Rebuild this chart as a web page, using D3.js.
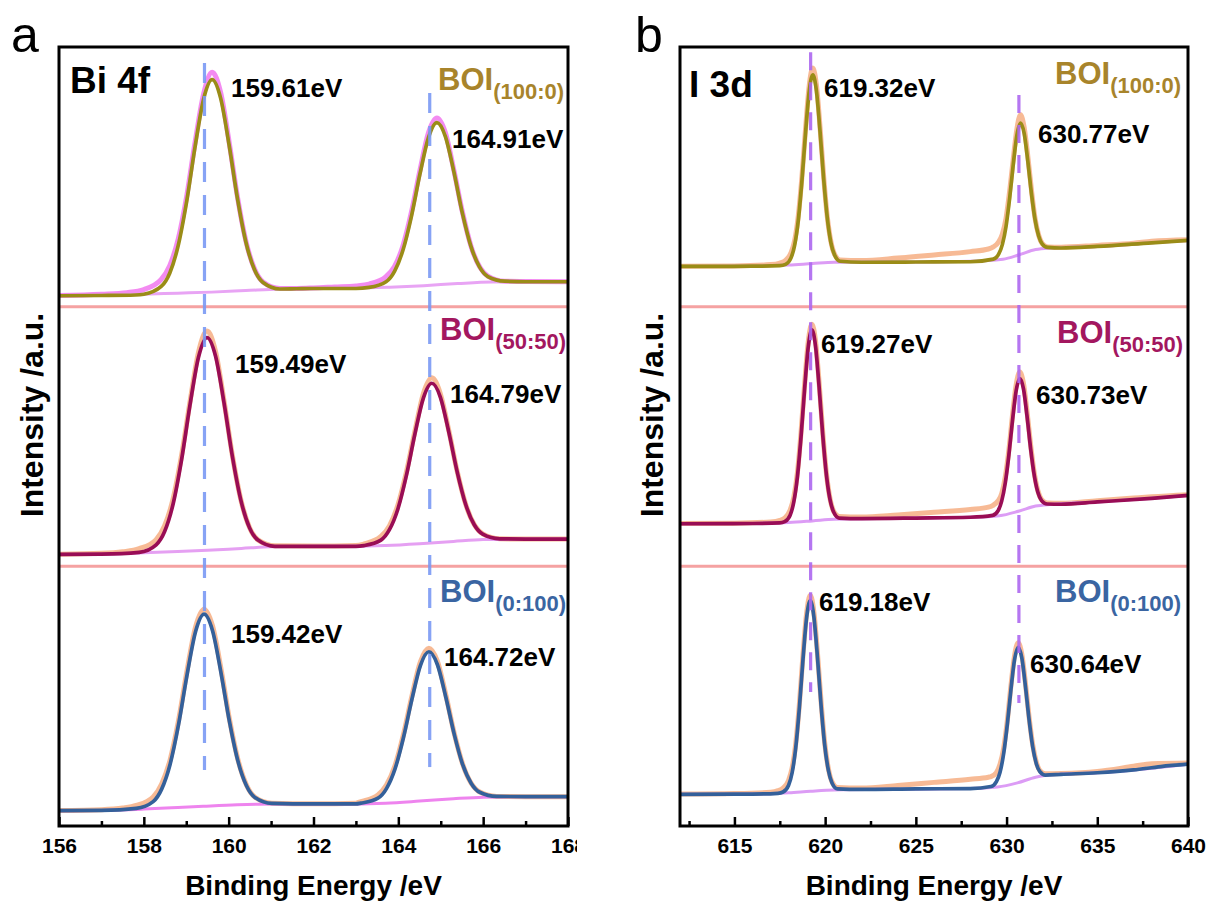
<!DOCTYPE html>
<html>
<head>
<meta charset="utf-8">
<script src="https://cdn.jsdelivr.net/npm/d3@7"></script>
<style>
  html, body { margin: 0; padding: 0; background: #fff; }
  svg { display: block; font-family: "Liberation Sans", Arial, sans-serif; }
</style>
</head>
<body>
<svg id="chart" width="1208" height="904"></svg>
<script>
// ---------------- DATA ----------------
// Panel a: Bi 4f  (x = binding energy eV, y = intensity within its strip, 0..100 a.u.)
const ticksA = [156, 158, 160, 162, 164, 166, 168];
const minorTicksA = [157, 159, 161, 163, 165, 167];
const ticksB = [615, 620, 625, 630, 635, 640];
const minorTicksB = [612.5, 617.5, 622.5, 627.5, 632.5, 637.5];

// row 1 BOI(100:0)
const a1Fit = [[156,4.2],[157,4.3],[157.8,4.5],[158.0,4.8],[158.41,7.8],[158.61,12.9],[158.81,23.5],[159.01,40.5],[159.21,61.8],[159.41,80.0],[159.61,87.4],[159.81,80.3],[160.01,62.3],[160.21,41.4],[160.41,24.6],[160.61,14.2],[160.81,9.3],[161.21,6.8],[161.6,6.9],[162,7.0],[162.5,7.0],[163,7.0],[163.31,7.4],[163.71,9.6],[163.91,13.6],[164.11,21.8],[164.31,34.9],[164.51,51.1],[164.71,65.1],[164.91,70.9],[165.11,65.5],[165.31,51.9],[165.51,36.0],[165.71,23.3],[165.91,15.4],[166.11,11.6],[166.51,9.8],[167,9.6],[168,9.6]];
const a1Raw = [[156,4.3],[157,4.8],[157.6,5.4],[158,6.6],[158.41,10.5],[158.61,15.8],[158.81,26],[159.01,42.5],[159.21,63.5],[159.41,82],[159.61,90.3],[159.81,82.5],[160.01,63.5],[160.21,42],[160.41,25],[160.61,14.5],[160.81,9.5],[161.21,7.0],[161.6,7.0],[162,7.2],[162.5,7.6],[163,8.0],[163.31,8.7],[163.71,11.6],[163.91,15.5],[164.11,23.5],[164.31,36.5],[164.51,52.5],[164.71,67],[164.91,72.7],[165.11,67],[165.31,52.5],[165.51,36.5],[165.71,23.5],[166.11,11.8],[166.51,9.8],[167,9.7],[168,9.6]];
const a1Bg = [[156,4.2],[157,4.4],[158,4.8],[158.8,5.2],[159.6,5.6],[160.4,6.2],[161.2,6.8],[162,7.0],[163,7.1],[163.8,7.5],[164.6,8.1],[165.4,8.9],[166.2,9.5],[167,9.6],[168,9.6]];

// row 2 BOI(50:50)
const a2Fit = [[156,4.6],[157,4.7],[157.89,5.4],[158.29,8.3],[158.49,13.4],[158.69,24.0],[158.89,41.1],[159.09,62.3],[159.29,80.6],[159.49,88.1],[159.69,81.0],[159.89,63.0],[160.09,42.1],[160.29,25.3],[160.49,14.9],[160.69,10.1],[161.09,7.7],[162,7.7],[163,7.7],[163.19,8.0],[163.59,10.1],[163.79,14.1],[163.99,22.1],[164.19,35.0],[164.39,50.9],[164.59,64.8],[164.79,70.5],[164.99,65.2],[165.19,51.7],[165.39,36.2],[165.59,23.7],[165.79,16.0],[165.99,12.4],[166.39,10.6],[167,10.5],[168,10.5]];
const a2Raw = [[156,4.7],[157,5.0],[157.5,5.6],[157.89,6.8],[158.29,10.3],[158.49,15.6],[158.69,26],[158.89,42.8],[159.09,63.5],[159.29,82.5],[159.49,90.6],[159.69,82.8],[159.89,63.8],[160.09,42.5],[160.29,25.5],[160.49,15],[160.69,10.2],[161.09,7.9],[162,7.8],[163,8.0],[163.19,8.6],[163.59,11.5],[163.79,15.6],[163.99,23.6],[164.19,36.3],[164.39,52],[164.59,66.5],[164.79,72.6],[164.99,66.5],[165.19,52.3],[165.39,36.4],[165.59,23.8],[165.99,12.5],[166.39,10.6],[167,10.5],[168,10.5]];
const a2Bg = [[156,4.6],[157,4.7],[158,5.2],[158.8,5.7],[159.5,6.2],[160.3,6.9],[161,7.5],[162,7.7],[163,7.7],[163.7,8.0],[164.5,8.7],[165.3,9.6],[166,10.3],[167,10.5],[168,10.5]];

// row 3 BOI(0:100)
const a3Fit = [[156,5.9],[157,6.0],[157.82,6.8],[158.22,9.4],[158.42,14.2],[158.62,23.8],[158.82,39.2],[159.02,58.3],[159.22,74.9],[159.42,81.6],[159.62,75.2],[159.82,58.9],[160.02,40.1],[160.22,24.9],[160.42,15.5],[160.62,11.0],[161.02,8.7],[162,8.5],[163,8.5],[163.12,8.8],[163.52,10.7],[163.72,14.4],[163.92,21.9],[164.12,34.0],[164.32,48.8],[164.52,61.8],[164.72,67.1],[164.92,62.2],[165.12,49.6],[165.32,35.2],[165.52,23.5],[165.72,16.4],[165.92,13.0],[166.32,11.4],[167,11.3],[168,11.3]];
const a3Raw = [[156,6.0],[157,6.3],[157.5,6.9],[157.82,7.9],[158.22,11.2],[158.42,16.2],[158.62,25.5],[158.82,40.8],[159.02,60],[159.22,76.7],[159.42,83.5],[159.62,77],[159.82,60.5],[160.02,41],[160.22,25.5],[160.42,15.8],[160.62,11.1],[161.02,8.8],[162,8.6],[163,8.8],[163.12,9.4],[163.52,12.0],[163.72,15.8],[163.92,23.2],[164.12,35.2],[164.32,50],[164.52,63.2],[164.72,68.5],[164.92,63.5],[165.12,50.5],[165.32,35.6],[165.52,23.7],[165.92,13.1],[166.32,11.4],[167,11.3],[168,11.3]];
const a3Bg = [[156,5.9],[157,6.0],[158,6.5],[158.8,7.1],[159.4,7.6],[160.2,8.2],[161,8.5],[162,8.5],[163,8.5],[163.7,8.8],[164.5,9.6],[165.3,10.5],[166,11.1],[167,11.3],[168,11.3]];

// Panel b: I 3d
const b1Fit = [[612,15.5],[616,15.6],[617.5,15.8],[617.82,16.3],[618.12,18.8],[618.32,23.7],[618.52,33.3],[618.72,48.5],[618.92,67.0],[619.12,82.9],[619.32,89.3],[619.52,83.1],[619.72,67.4],[619.92,49.1],[620.12,34.1],[620.32,24.6],[620.52,19.9],[620.82,17.5],[622,17.1],[625,17.2],[628,17.3],[629.27,18.3],[629.57,20.3],[629.77,24.0],[629.97,30.9],[630.17,41.8],[630.37,54.9],[630.57,66.1],[630.77,70.7],[630.97,66.7],[631.17,56.1],[631.37,43.7],[631.57,33.5],[631.77,27.2],[631.97,24.1],[632.27,22.8],[633,22.6],[635,23.2],[638,24.6],[640,25.5]];
const b1Raw = [[612,15.6],[615,15.7],[617,16.2],[617.5,16.8],[617.82,17.8],[618.12,20.8],[618.32,25.5],[618.52,35],[618.72,50],[618.92,68.5],[619.12,85],[619.32,91.9],[619.52,85.3],[619.72,69],[619.92,50],[620.12,34.5],[620.32,25],[620.52,20.2],[620.82,18.0],[622,17.8],[624,18.7],[626,19.9],[628,21.2],[629,22.2],[629.27,23.0],[629.57,25],[629.77,28],[629.97,34],[630.17,44.5],[630.37,57],[630.57,68.5],[630.77,73.9],[630.97,69],[631.17,58],[631.37,45],[631.57,34],[631.77,27.5],[631.97,24.3],[632.27,23.0],[633,22.9],[635,23.6],[637,24.4],[638,25.2],[640,25.8]];
const b1Bg = [[612,15.5],[616,15.6],[618,16.0],[619.3,16.6],[620.5,17.1],[624,17.2],[628,17.5],[629.8,18.3],[630.7,20.0],[631.6,22.0],[632.5,22.6],[635,23.2],[638,24.6],[640,25.5]];

const b2Fit = [[612,16.4],[616,16.5],[617.5,16.7],[617.77,17.2],[618.07,19.7],[618.27,24.7],[618.47,34.4],[618.67,49.8],[618.87,68.5],[619.07,84.6],[619.27,91.1],[619.47,84.8],[619.67,68.9],[619.87,50.4],[620.07,35.2],[620.27,25.7],[620.47,20.9],[620.77,18.6],[622,18.4],[625,18.6],[628,18.9],[629.23,19.6],[629.53,21.4],[629.73,25.1],[629.93,32.2],[630.13,43.1],[630.33,56.4],[630.53,67.7],[630.73,72.3],[630.93,68.4],[631.13,57.7],[631.33,45.1],[631.53,34.9],[631.73,28.4],[631.93,25.3],[632.23,24.0],[633,23.9],[635,24.8],[638,26.2],[640,27.3]];
const b2Raw = [[612,16.5],[615,16.6],[617,17.1],[617.5,17.7],[617.77,18.6],[618.07,21.6],[618.27,26.5],[618.47,36],[618.67,51.5],[618.87,70.3],[619.07,86.6],[619.27,93.2],[619.47,86.8],[619.67,70.5],[619.87,51.5],[620.07,35.8],[620.27,26],[620.47,21.2],[620.77,19.2],[622,19.0],[624,19.8],[626,20.8],[628,21.9],[629,22.8],[629.23,23.4],[629.53,25.2],[629.73,28],[629.93,34.5],[630.13,45],[630.33,58.5],[630.53,70],[630.73,74.8],[630.93,70.5],[631.13,59.5],[631.33,46.5],[631.53,35.8],[631.73,29],[631.93,25.7],[632.23,24.4],[633,24.3],[635,25.3],[637,26.3],[638,26.8],[640,27.6]];
const b2Bg = [[612,16.4],[616,16.5],[618,16.9],[619.3,17.5],[620.5,18.1],[624,18.5],[628,18.9],[629.6,19.5],[630.7,21.3],[631.6,23.2],[632.5,23.9],[635,24.8],[638,26.2],[640,27.3]];

const b3Fit = [[612,12.2],[616,12.3],[617.4,12.6],[617.68,13.1],[617.98,15.6],[618.18,20.5],[618.38,30.2],[618.58,45.6],[618.78,64.3],[618.98,80.3],[619.18,86.8],[619.38,80.5],[619.58,64.7],[619.78,46.1],[619.98,30.9],[620.18,21.4],[620.38,16.6],[620.68,14.3],[622,14.1],[625,14.3],[628,14.4],[629.14,15.2],[629.44,17.1],[629.64,20.7],[629.84,27.9],[630.04,39.1],[630.24,52.5],[630.44,64.1],[630.64,68.8],[630.84,64.8],[631.04,53.8],[631.24,41.0],[631.44,30.5],[631.64,24.0],[631.84,20.9],[632.14,19.6],[633,19.9],[635,20.5],[637,21.6],[638.5,22.9],[640,23.8]];
const b3Raw = [[612,12.3],[615,12.5],[617,13.0],[617.4,13.6],[617.68,14.6],[617.98,17.5],[618.18,22.3],[618.38,31.8],[618.58,47],[618.78,66],[618.98,82],[619.18,88.9],[619.38,82.3],[619.58,66.3],[619.78,47.5],[619.98,31.8],[620.18,22],[620.38,17],[620.68,14.8],[622,14.6],[624,15.6],[626,16.8],[628,18.0],[629,18.8],[629.14,19.0],[629.44,20.6],[629.64,23.8],[629.84,30],[630.04,40.5],[630.24,54],[630.44,65.6],[630.64,70.6],[630.84,66.2],[631.04,55],[631.24,42],[631.44,31.3],[631.64,24.6],[631.84,21.3],[632.14,20.1],[633,20.2],[635,21.0],[637,23.0],[638,24.0],[640,24.3]];
const b3Bg = [[612,12.2],[616,12.3],[618,12.8],[619.2,13.4],[620.5,13.9],[624,14.2],[628,14.4],[629.5,15.0],[630.6,16.6],[631.6,18.8],[632.5,19.7],[635,20.5],[637,21.6],[640,23.8]];

const sampleNames = ["(100:0)", "(50:50)", "(0:100)"];
const stackOffsets = [200, 100, 0];
const peakLabelsA = [["159.61eV","164.91eV"],["159.49eV","164.79eV"],["159.42eV","164.72eV"]];
const peakLabelsB = [["619.32eV","630.77eV"],["619.27eV","630.73eV"],["619.18eV","630.64eV"]];
// reference (dashed) lines: energy, from-intensity, to-intensity (stacked units)
const refLinesA = [[159.43, 21.6, 293.8], [164.74, 22.7, 282.3]];
const refLinesB = [[619.20, 51.6, 298.0], [630.68, 47.4, 281.5]];

// ---------------- STYLE / LAYOUT ----------------
const fitColors = ["#9a8c17", "#990d55", "#34609a"];
const labelColors = ["#a8842b", "#a3175f", "#3a65a2"];
const font = '"Liberation Sans", Arial, sans-serif';
const plotTop = 47, plotBottom = 826;

const panels = [
  { key:"a", left:59, right:568, domain:[156,168], ticks:ticksA, minor:minorTicksA,
    title:"Bi 4f", titlePos:[70,93], letterPos:[11,52], yTitleX:43, clipX:577,
    rows:[{fit:a1Fit, raw:a1Raw, bg:a1Bg, rawColor:"#f27ef0", bgColor:"#e8a4f4"},
          {fit:a2Fit, raw:a2Raw, bg:a2Bg, rawColor:"#f6b289", bgColor:"#e5a0f2"},
          {fit:a3Fit, raw:a3Raw, bg:a3Bg, rawColor:"#f6b289", bgColor:"#ee84ee"}],
    peakLabels:peakLabelsA, refLines:refLinesA, refColor:"#7b9af4", dash:"20,13",
    peakPos:[[[231,97],[452,148]],[[235,373],[450,403]],[[231,643],[444,666]]],
    boiPos:[[438,90],[440,340],[440,602]] },
  { key:"b", left:680, right:1188, domain:[612,640], ticks:ticksB, minor:minorTicksB,
    title:"I 3d", titlePos:[689,97], letterPos:[635,52], yTitleX:663, clipX:1208,
    rows:[{fit:b1Fit, raw:b1Raw, bg:b1Bg, rawColor:"#f6b289", bgColor:"#dc9cf5"},
          {fit:b2Fit, raw:b2Raw, bg:b2Bg, rawColor:"#f6b289", bgColor:"#dc9cf5"},
          {fit:b3Fit, raw:b3Raw, bg:b3Bg, rawColor:"#f6b289", bgColor:"#dc9cf5"}],
    peakLabels:peakLabelsB, refLines:refLinesB, refColor:"#ad68f0", dash:"18,12",
    peakPos:[[[824,97],[1038,143]],[[821,353],[1036,404]],[[819,611],[1030,673]]],
    boiPos:[[1055,84],[1057,343],[1055,602]] }
];

// ---------------- DRAW ----------------
const svg = d3.select("#chart");
const defs = svg.append("defs");

panels.forEach(p => {
  const x = d3.scaleLinear().domain(p.domain).range([p.left, p.right]);
  const y = d3.scaleLinear().domain([0, 300]).range([plotBottom, plotTop]);

  defs.append("clipPath").attr("id", "outer-" + p.key)
    .append("rect").attr("x", 0).attr("y", 0).attr("width", p.clipX).attr("height", 904);
  defs.append("clipPath").attr("id", "plot-" + p.key)
    .append("rect").attr("x", p.left).attr("y", plotTop).attr("width", p.right - p.left).attr("height", plotBottom - plotTop);

  const g = svg.append("g").attr("clip-path", `url(#outer-${p.key})`);
  const plot = g.append("g").attr("clip-path", `url(#plot-${p.key})`);

  // separators between stacked strips
  plot.selectAll("line.sep").data([100, 200]).join("line")
    .attr("x1", p.left).attr("x2", p.right)
    .attr("y1", d => y(d)).attr("y2", d => y(d))
    .attr("stroke", "#f5a2a2").attr("stroke-width", 3);

  p.rows.forEach((r, i) => {
    const off = stackOffsets[i];
    const line = d3.line().x(d => x(d[0])).y(d => y(d[1] + off)).curve(d3.curveMonotoneX);
    plot.append("path").attr("d", line(r.raw)).attr("fill", "none")
      .attr("stroke", r.rawColor).attr("stroke-width", 5).attr("stroke-linejoin", "round").attr("opacity", 0.9);
    plot.append("path").attr("d", line(r.bg)).attr("fill", "none")
      .attr("stroke", r.bgColor).attr("stroke-width", 3);
    plot.append("path").attr("d", line(r.fit)).attr("fill", "none")
      .attr("stroke", fitColors[i]).attr("stroke-width", 3.7).attr("stroke-linejoin", "round");
  });

  // dashed reference lines
  plot.selectAll("line.ref").data(p.refLines).join("line")
    .attr("x1", d => x(d[0])).attr("x2", d => x(d[0]))
    .attr("y1", d => y(d[2])).attr("y2", d => y(d[1]))
    .attr("stroke", p.refColor).attr("stroke-width", 3.2)
    .attr("stroke-dasharray", p.dash).attr("opacity", 0.9);

  // axis ticks (inward)
  const axisMajor = d3.axisBottom(x).tickValues(p.ticks).tickSizeInner(-9).tickSizeOuter(0)
    .tickPadding(12).tickFormat(d3.format("d"));
  const ag = g.append("g").attr("transform", `translate(0,${plotBottom})`).call(axisMajor);
  ag.select(".domain").remove();
  ag.selectAll(".tick line").attr("stroke", "#000").attr("stroke-width", 2.5);
  ag.selectAll(".tick text").attr("fill", "#000").style("font-family", font)
    .style("font-size", "21px").style("font-weight", "bold");
  const axisMinor = d3.axisBottom(x).tickValues(p.minor).tickSizeInner(-5).tickSizeOuter(0).tickFormat("");
  const mg = g.append("g").attr("transform", `translate(0,${plotBottom})`).call(axisMinor);
  mg.select(".domain").remove();
  mg.selectAll(".tick line").attr("stroke", "#000").attr("stroke-width", 2.5);

  // frame
  g.append("rect").attr("x", p.left).attr("y", plotTop)
    .attr("width", p.right - p.left).attr("height", plotBottom - plotTop)
    .attr("fill", "none").attr("stroke", "#000").attr("stroke-width", 3);

  // texts
  g.append("text").attr("x", p.titlePos[0]).attr("y", p.titlePos[1]).text(p.title)
    .style("font-family", font).style("font-size", "37px").style("font-weight", "bold").attr("fill", "#000");
  svg.append("text").attr("x", p.letterPos[0]).attr("y", p.letterPos[1]).text(p.key)
    .style("font-family", font).style("font-size", "50px").attr("fill", "#000");

  p.rows.forEach((r, i) => {
    p.peakLabels[i].forEach((t, j) => {
      g.append("text").attr("x", p.peakPos[i][j][0]).attr("y", p.peakPos[i][j][1]).text(t)
        .style("font-family", font).style("font-size", "26px").style("font-weight", "bold").attr("fill", "#000");
    });
    const bt = g.append("text").attr("x", p.boiPos[i][0]).attr("y", p.boiPos[i][1])
      .style("font-family", font).style("font-weight", "bold").attr("fill", labelColors[i]);
    bt.append("tspan").text("BOI").style("font-size", "31px");
    bt.append("tspan").attr("dy", 9).text(sampleNames[i]).style("font-size", "22px");
  });

  // axis titles
  g.append("text").attr("x", (p.left + p.right) / 2).attr("y", 895).attr("text-anchor", "middle")
    .text("Binding Energy /eV").style("font-family", font).style("font-size", "28px").style("font-weight", "bold");
  g.append("text").attr("transform", `translate(${p.yTitleX},415) rotate(-90)`).attr("text-anchor", "middle")
    .text("Intensity /a.u.").style("font-family", font).style("font-size", "32px").style("font-weight", "bold");
});
</script>
</body>
</html>
